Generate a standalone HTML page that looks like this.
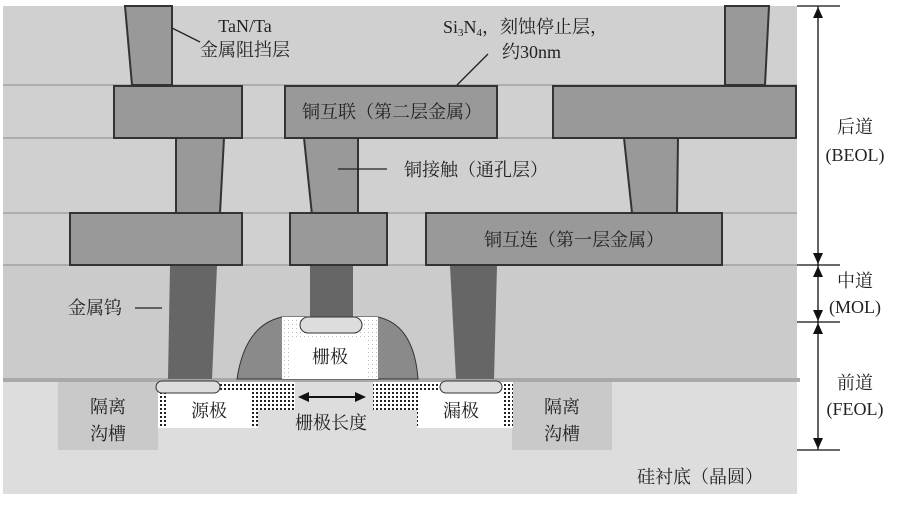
<!DOCTYPE html>
<html><head><meta charset="utf-8"><style>
body{margin:0;background:#fff;width:901px;height:502px;overflow:hidden}
svg text{font-family:"Liberation Serif","Noto Serif CJK SC",serif;font-size:18px;fill:#222}
</style></head><body>
<svg width="901" height="502" viewBox="0 0 901 502" xmlns="http://www.w3.org/2000/svg">
<defs>
<pattern id="dots" width="4" height="4" patternUnits="userSpaceOnUse">
<rect width="4" height="4" fill="#fff"/><rect x="0" y="0" width="2" height="2" fill="#222"/>
</pattern>
<pattern id="fdots" width="4" height="4" patternUnits="userSpaceOnUse">
<rect width="4" height="4" fill="#fff"/><rect x="0" y="0" width="1" height="1" fill="#bbb"/>
</pattern>
</defs>
<rect x="3" y="6" width="794" height="259" fill="#d0d0d0"/>
<rect x="3" y="265" width="794" height="116" fill="#cbcbcb"/>
<rect x="3" y="381" width="794" height="113" fill="#dddddd"/>
<g stroke="#8a8a8a" stroke-width="1">
<line x1="3" y1="85" x2="797" y2="85"/><line x1="3" y1="138" x2="797" y2="138"/>
<line x1="3" y1="213" x2="797" y2="213"/><line x1="3" y1="265" x2="797" y2="265"/>
</g>
<line x1="3" y1="380" x2="800" y2="380" stroke="#a9a9a9" stroke-width="4"/>
<rect x="58" y="382" width="100" height="68" fill="#c9c9c9"/>
<rect x="512" y="382" width="100" height="68" fill="#c9c9c9"/>
<g fill="#999" stroke="#333" stroke-width="2">
<polygon points="125,6 172,6 172,85 132,85"/>
<polygon points="725,6 769,6 765,85 725,85"/>
<rect x="114" y="86" width="128" height="52"/>
<rect x="285" y="86" width="212" height="52"/>
<rect x="553" y="86" width="243" height="52"/>
<polygon points="176,138 224,138 220,213 176,213"/>
<polygon points="304,138 358,138 358,215 312,215"/>
<polygon points="624,138 678,138 677,213 632,213"/>
<rect x="70" y="213" width="172" height="52"/>
<rect x="290" y="213" width="97" height="52"/>
<rect x="426" y="213" width="296" height="52"/>
</g>
<g fill="#666">
<polygon points="170,266 217,266 212,379 168,379"/>
<rect x="310" y="266" width="43" height="52"/>
<polygon points="450,266 497,266 494,379 456,379"/>
</g>
<path d="M237,379 Q245,325 282,317 L378,317 Q414,325 418,379 Z" fill="#8a8a8a" stroke="#333" stroke-width="1"/>
<rect x="282" y="317" width="96" height="62" fill="url(#fdots)"/>
<rect x="292" y="338" width="76" height="40" fill="#fff"/>
<rect x="300" y="317" width="62" height="16" rx="8" fill="#ddd" stroke="#333" stroke-width="1"/>
<path d="M158,382 L295,382 L295,410 L258,410 L258,428 L158,428 Z" fill="url(#dots)"/>
<rect x="168" y="392" width="82" height="34" fill="#fff"/>
<rect x="156" y="381" width="64" height="12" rx="6" fill="#ddd" stroke="#333" stroke-width="1"/>
<path d="M373,382 L513,382 L513,428 L417,428 L417,410 L373,410 Z" fill="url(#dots)"/>
<rect x="420" y="392" width="84" height="34" fill="#fff"/>
<rect x="440" y="381" width="62" height="12" rx="6" fill="#ddd" stroke="#333" stroke-width="1"/>
<line x1="306" y1="397" x2="357" y2="397" stroke="#111" stroke-width="2"/>
<polygon points="298,397 309,392 309,402" fill="#111"/>
<polygon points="366,397 355,392 355,402" fill="#111"/>
<g stroke="#222" stroke-width="1.3">
<line x1="172" y1="28" x2="200" y2="42"/>
<line x1="457" y1="85" x2="488" y2="54"/>
<line x1="338" y1="169" x2="387" y2="169"/>
<line x1="135" y1="308" x2="162" y2="308"/>
</g>
<g stroke="#111" stroke-width="1.3">
<line x1="797" y1="6" x2="840" y2="6"/><line x1="797" y1="265" x2="840" y2="265"/>
<line x1="797" y1="322" x2="840" y2="322"/><line x1="797" y1="450" x2="840" y2="450"/>
<line x1="818" y1="6" x2="818" y2="450"/>
</g>
<g fill="#111">
<polygon points="818,7 813,18 823,18"/><polygon points="818,264 813,253 823,253"/>
<polygon points="818,266 813,277 823,277"/><polygon points="818,321 813,310 823,310"/>
<polygon points="818,323 813,334 823,334"/><polygon points="818,449 813,438 823,438"/>
</g>
<text x="245" y="32" text-anchor="middle">TaN/Ta</text>
<text x="245" y="56" text-anchor="middle">金属阻挡层</text>
<text x="443" y="33">Si<tspan font-size="11" dy="3">3</tspan><tspan dy="-3">N</tspan><tspan font-size="11" dy="3">4</tspan><tspan dy="-3">，刻蚀停止层，</tspan></text>
<text x="502" y="58">约30nm</text>
<text x="392" y="118" text-anchor="middle">铜互联（第二层金属）</text>
<text x="476" y="176" text-anchor="middle">铜接触（通孔层）</text>
<text x="574" y="246" text-anchor="middle">铜互连（第一层金属）</text>
<text x="95" y="314" text-anchor="middle">金属钨</text>
<text x="330" y="363" text-anchor="middle">栅极</text>
<text x="209" y="417" text-anchor="middle">源极</text>
<text x="461" y="417" text-anchor="middle">漏极</text>
<text x="331" y="429" text-anchor="middle">栅极长度</text>
<text x="108" y="413" text-anchor="middle">隔离</text>
<text x="108" y="440" text-anchor="middle">沟槽</text>
<text x="562" y="413" text-anchor="middle">隔离</text>
<text x="562" y="440" text-anchor="middle">沟槽</text>
<text x="700" y="483" text-anchor="middle">硅衬底（晶圆）</text>
<text x="855" y="133" text-anchor="middle">后道</text>
<text x="855" y="161" text-anchor="middle">(BEOL)</text>
<text x="855" y="287" text-anchor="middle">中道</text>
<text x="855" y="313" text-anchor="middle">(MOL)</text>
<text x="855" y="389" text-anchor="middle">前道</text>
<text x="855" y="415" text-anchor="middle">(FEOL)</text>
</svg>
</body></html>
